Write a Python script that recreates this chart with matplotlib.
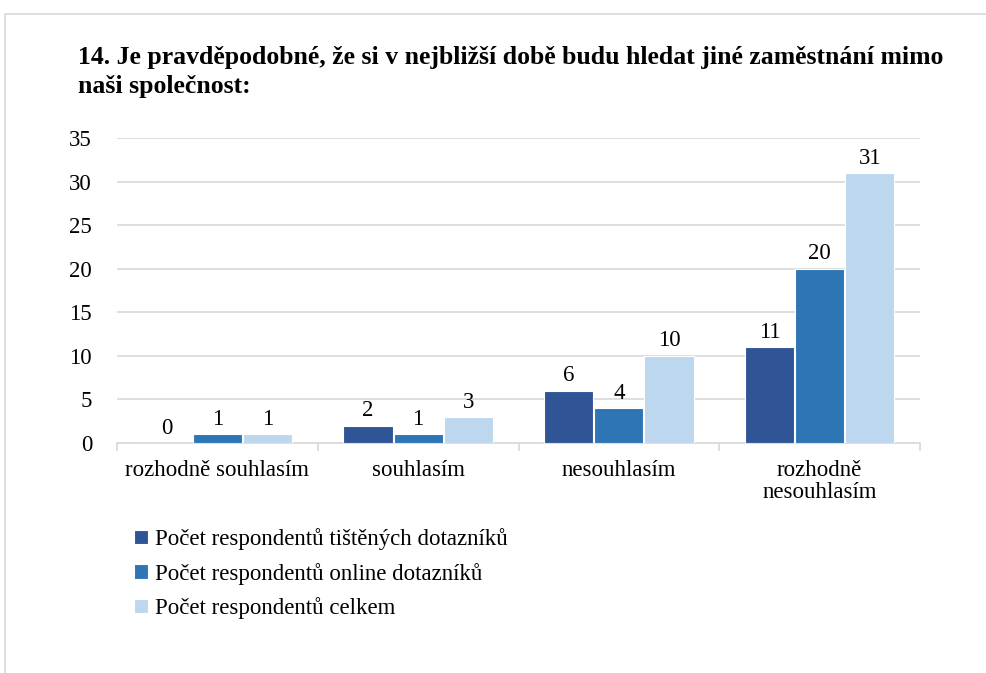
import matplotlib
matplotlib.use("Agg")
import matplotlib.pyplot as plt
import numpy as np
from matplotlib.patches import Rectangle

categories = ["rozhodně souhlasím", "souhlasím", "nesouhlasím", "rozhodně\nnesouhlasím"]
series_names = ["Počet respondentů tištěných dotazníků",
                "Počet respondentů online dotazníků",
                "Počet respondentů celkem"]
printed = [0, 2, 6, 11]
online = [1, 1, 4, 20]
total = [1, 3, 10, 31]
yticks = [0, 5, 10, 15, 20, 25, 30, 35]
title = "14. Je pravděpodobné, že si v nejbližší době budu hledat jiné zaměstnání mimo\nnaši společnost:"

colors = ["#2F5597", "#2E75B6", "#BDD7EE"]

plt.rcParams['font.family'] = ['Liberation Serif', 'DejaVu Serif']
FS = 16.5

fig = plt.figure(figsize=(9.86, 6.73), dpi=100)
W, H = 986, 673
# outer border
fig.patches.append(Rectangle((5 / W, -0.1), 1.2, (673 - 14) / H + 0.1, transform=fig.transFigure,
                             fill=False, edgecolor="#D9D9D9", linewidth=1.2))

ax = fig.add_axes([117 / W, 1 - 443 / H, (920 - 117) / W, (443 - 138) / H])
x = np.arange(len(categories))
width = 0.245
for i, (vals, name) in enumerate(zip([printed, online, total], series_names)):
    bars = ax.bar(x + (i - 1) * 0.25, vals, width, color=colors[i], label=name,
                  edgecolor="white", linewidth=0.8, zorder=3)
    for b, v in zip(bars, vals):
        ax.text(b.get_x() + b.get_width() / 2, v + 0.5, str(v), ha="center", va="bottom",
                fontsize=FS, color="#000000")

ax.set_xlim(-0.5, len(categories) - 0.5)
ax.set_ylim(0, 35)
ax.set_yticks(yticks)
ax.set_yticklabels([str(t) for t in yticks], fontsize=FS)
ax.yaxis.grid(True, color="#D9D9D9", linewidth=1.2, zorder=0)
ax.set_axisbelow(True)
for s in ["top", "right", "left"]:
    ax.spines[s].set_visible(False)
ax.spines["bottom"].set_color("#D9D9D9")
ax.spines["bottom"].set_linewidth(1.2)
ax.tick_params(axis="y", length=0, pad=18)
ax.set_xticks(np.arange(-0.5, len(categories), 1.0))
ax.set_xticklabels([])
ax.tick_params(axis="x", length=6, color="#D9D9D9", width=1.2, direction="out")
ax.set_xticks(x, minor=True)
ax.set_xticklabels(categories, minor=True, fontsize=FS, linespacing=1.1)
ax.tick_params(axis="x", which="minor", length=0, pad=12)

fig.text(78 / W, 1 - 46 / H, title, ha="left", va="top", fontsize=18.5, fontweight="bold",
         linespacing=1.36)

handles, labels = ax.get_legend_handles_labels()
leg = fig.legend(handles, labels, loc="upper left", bbox_to_anchor=(134 / W, 1 - 528 / H),
                 frameon=False, fontsize=FS, handlelength=0.6, handleheight=0.6,
                 handletextpad=0.3, labelspacing=0.55, borderpad=0, borderaxespad=0)

fig.savefig("out.png", dpi=100, facecolor="white")
